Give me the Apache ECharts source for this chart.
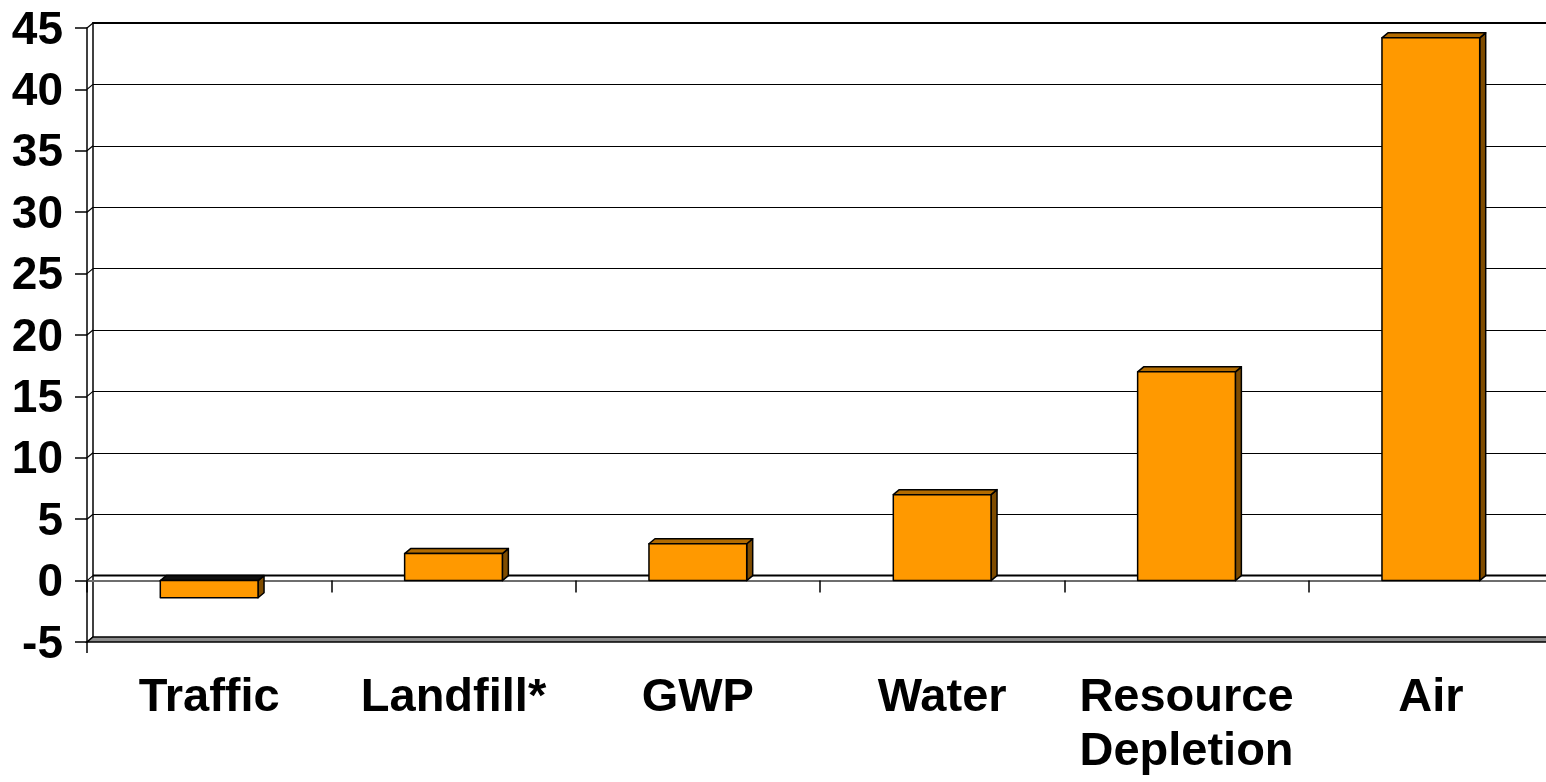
<!DOCTYPE html>
<html>
<head>
<meta charset="utf-8">
<script src="https://cdn.jsdelivr.net/npm/echarts@6/dist/echarts.min.js"></script>
<style>
  html, body { margin: 0; padding: 0; background: #fff; }
  #chart { width: 1546px; height: 782px; }
</style>
</head>
<body>
<div id="chart"></div>
<script>
// Impact categories and their scores
const categories = ['Traffic', 'Landfill*', 'GWP', 'Water', 'Resource\nDepletion', 'Air'];
const values = [-1.4, 2.2, 3.0, 7.0, 17.0, 44.2];
const yTicks = [-5, 0, 5, 10, 15, 20, 25, 30, 35, 40, 45];

// depth offset of the back wall / bar prisms
const DX = 6, DY = -5;
const FRONT = '#FF9900', TOP = '#B26B00', SIDE = '#7F4C00';
const FONT = '"Liberation Sans", Arial, sans-serif';
const Y_MIN = yTicks[0], Y_MAX = yTicks[yTicks.length - 1], Y_STEP = yTicks[1] - yTicks[0];

const chart = echarts.init(document.getElementById('chart'), null, { renderer: 'canvas' });

// Bar prism: front face, top face and right side face
function renderBar(params, api) {
  const i = api.value(0), v = api.value(1);
  const base = api.coord([i, 0]);
  const tip = api.coord([i, v]);
  const w = api.size([1, 0])[0] * 0.4;
  const xl = base[0] - w / 2, xr = base[0] + w / 2;
  const yT = Math.min(base[1], tip[1]), yB = Math.max(base[1], tip[1]);
  const stroke = { stroke: '#000', lineWidth: 1.5, lineJoin: 'round' };
  return {
    type: 'group',
    children: [
      { type: 'polygon', shape: { points: [[xr, yT], [xr + DX, yT + DY], [xr + DX, yB + DY], [xr, yB]] },
        style: Object.assign({ fill: SIDE }, stroke) },
      { type: 'polygon', shape: { points: [[xl, yT], [xr, yT], [xr + DX, yT + DY], [xl + DX, yT + DY]] },
        style: Object.assign({ fill: v < 0 ? '#111' : TOP }, stroke) },
      { type: 'rect', shape: { x: xl, y: yT, width: w, height: yB - yT },
        style: Object.assign({ fill: FRONT }, stroke) }
    ]
  };
}

// Side-wall connectors at each tick, the floor and the zero plane
function renderWalls(params, api) {
  const cs = params.coordSys;
  const t = api.value(1);
  const y = api.coord([0, t])[1];
  const x = cs.x, xr = cs.x + cs.width;
  const children = [
    { type: 'line', shape: { x1: x, y1: y, x2: x + DX, y2: y + DY }, style: { stroke: '#000', lineWidth: 1.2 } }
  ];
  if (t === Y_MIN) {
    children.push({ type: 'polygon',
      shape: { points: [[x, y], [xr, y], [xr + DX, y + DY], [x + DX, y + DY]] },
      style: { fill: '#8c8c8c', stroke: '#000', lineWidth: 1.5 } });
    children.push({ type: 'line', shape: { x1: x, y1: y, x2: x, y2: y + 11 }, style: { stroke: '#000', lineWidth: 1.5 } });
  }
  if (t === 0) {
    children.push({ type: 'line', shape: { x1: x + DX, y1: y + DY, x2: xr + DX, y2: y + DY },
      style: { stroke: '#000', lineWidth: 2 } });
  }
  return { type: 'group', children };
}

const frontGrid = { left: 87, top: 28, width: 1466, height: 614, outerBoundsMode: 'none', containLabel: false };
const backGrid = { left: 87 + DX, top: 28 + DY, width: 1466, height: 614, outerBoundsMode: 'none', containLabel: false };

chart.setOption({
  animation: false,
  backgroundColor: '#fff',
  grid: [frontGrid, backGrid],
  xAxis: [
    { // category axis crossing at zero
      type: 'category', gridIndex: 0, data: categories, position: 'bottom',
      axisLine: { onZero: true, lineStyle: { color: '#6e6e6e', width: 2 } },
      axisTick: { show: true, length: 12, lineStyle: { color: '#000', width: 1.5 } },
      axisLabel: { show: false }, splitLine: { show: false }
    },
    { // labels along the bottom
      type: 'category', gridIndex: 0, data: categories, position: 'bottom',
      axisLine: { show: false, onZero: false }, axisTick: { show: false },
      axisLabel: { show: true, interval: 0, margin: 29, color: '#000', fontFamily: FONT,
        fontWeight: 'bold', fontSize: 47, lineHeight: 54 },
      splitLine: { show: false }
    },
    { // top edge of the back wall
      type: 'category', gridIndex: 1, data: categories, position: 'top',
      axisLine: { show: true, onZero: false, lineStyle: { color: '#000', width: 2 } },
      axisTick: { show: false }, axisLabel: { show: false }, splitLine: { show: false }
    }
  ],
  yAxis: [
    {
      type: 'value', gridIndex: 0, min: Y_MIN, max: Y_MAX, interval: Y_STEP,
      axisLine: { show: true, lineStyle: { color: '#000', width: 1.5 } },
      axisTick: { show: true, length: 12, lineStyle: { color: '#000', width: 1.5 } },
      axisLabel: { margin: 24, formatter: '{v|{value}}',
        rich: { v: { color: '#000', fontFamily: FONT, fontWeight: 'bold', fontSize: 46,
          lineHeight: 46, padding: [6, 0, 0, 0] } } },
      splitLine: { show: false }
    },
    {
      type: 'value', gridIndex: 1, min: Y_MIN, max: Y_MAX, interval: Y_STEP,
      axisLine: { show: true, lineStyle: { color: '#000', width: 1.5 } },
      axisTick: { show: false }, axisLabel: { show: false },
      splitLine: { show: true, lineStyle: { color: '#000', width: 1.2 } }
    }
  ],
  series: [
    {
      type: 'custom', name: 'walls', xAxisIndex: 0, yAxisIndex: 0, silent: true, z: 1,
      renderItem: renderWalls, data: yTicks.map(t => [0, t])
    },
    {
      type: 'custom', name: 'score', xAxisIndex: 0, yAxisIndex: 0, z: 3,
      renderItem: renderBar, data: values.map((v, i) => [i, v])
    }
  ]
});
</script>
</body>
</html>
